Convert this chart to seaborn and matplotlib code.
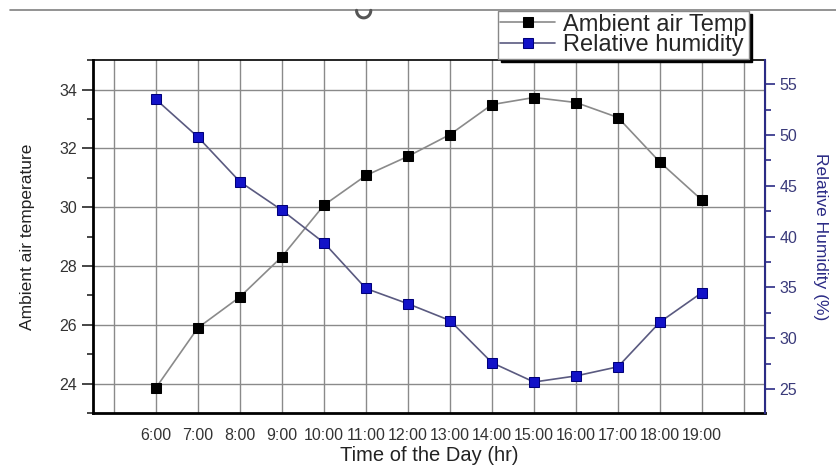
import numpy as np
import pandas as pd
import matplotlib
matplotlib.use("Agg")
import matplotlib.pyplot as plt
import seaborn as sns
from matplotlib.ticker import MultipleLocator, FixedLocator
from matplotlib.lines import Line2D

# Data
hours = [6, 7, 8, 9, 10, 11, 12, 13, 14, 15, 16, 17, 18, 19]
hour_labels = ["6:00", "7:00", "8:00", "9:00", "10:00", "11:00", "12:00",
               "13:00", "14:00", "15:00", "16:00", "17:00", "18:00", "19:00"]
air_temp = [23.86, 25.9, 26.95, 28.32, 30.07, 31.08, 31.73,
            32.47, 33.49, 33.73, 33.56, 33.05, 31.53, 30.24]
humidity = [53.5, 49.8, 45.4, 42.6, 39.4, 34.9, 33.4,
            31.75, 27.6, 25.7, 26.3, 27.2, 31.6, 34.5]

df = pd.DataFrame({"hour": hours, "temp": air_temp, "rh": humidity})

sns.set_style("white")
plt.rcParams["font.family"] = ["Liberation Sans", "DejaVu Sans"]

navy = "#2b2b85"
fig = plt.figure(figsize=(8.37, 4.70), dpi=100)
ax = fig.add_axes([0.111, 0.121, 0.803, 0.751])
ax2 = ax.twinx()

sns.lineplot(data=df, x="hour", y="temp", ax=ax, legend=False,
             color="#8a8a8a", lw=1.2, marker="s", markersize=6.5,
             markerfacecolor="black", markeredgecolor="black",
             label="Ambient air Temp")
sns.lineplot(data=df, x="hour", y="rh", ax=ax2, legend=False,
             color="#5a5a80", lw=1.2, marker="s", markersize=6.5,
             markerfacecolor="#1212c8", markeredgecolor="#00007a",
             label="Relative humidity")

# x axis
ax.set_xlim(4.5, 20.5)
ax.xaxis.set_major_locator(FixedLocator(list(range(5, 21))))
ax.set_xticklabels([""] + hour_labels + [""])
ax.xaxis.set_minor_locator(MultipleLocator(0.5))
ax.tick_params(axis="x", which="major", direction="out", length=7, width=1.2,
               labelsize=11.5, labelcolor="#333333", pad=4)
ax.tick_params(axis="x", which="minor", direction="out", length=4, width=1.2)
ax2.tick_params(axis="x", which="both", top=True, bottom=False,
                labeltop=False, labelbottom=False, direction="in", width=1.2)
ax2.tick_params(axis="x", which="major", length=7)
ax2.tick_params(axis="x", which="minor", length=4)

# left y axis
ax.set_ylim(23.0, 35.0)
ax.yaxis.set_major_locator(MultipleLocator(2))
ax.yaxis.set_minor_locator(MultipleLocator(1))
ax.tick_params(axis="y", which="major", direction="out", length=8, width=1.2,
               labelsize=11.5, labelcolor="#333333", left=True)
ax.tick_params(axis="y", which="minor", direction="out", length=4, width=1.2, left=True)

# right y axis
ax2.set_ylim(22.64, 57.36)
ax2.yaxis.set_major_locator(MultipleLocator(5))
ax2.yaxis.set_minor_locator(MultipleLocator(2.5))
ax2.tick_params(axis="y", which="major", direction="out", length=7, width=1.2,
                labelsize=11.5, labelcolor="#3a3a7a", color=navy, right=True)
ax2.tick_params(axis="y", which="minor", direction="out", length=4, width=1.2,
                color=navy, right=True)

ax.grid(True, which="major", color="#8a8a8a", lw=1.0)
ax2.grid(False)

for s in ["left", "bottom", "top"]:
    ax.spines[s].set_color("black")
ax.spines["left"].set_linewidth(2.0)
ax.spines["bottom"].set_linewidth(2.0)
ax.spines["top"].set_linewidth(1.2)
ax2.spines["right"].set_color(navy)
ax2.spines["right"].set_linewidth(1.5)
ax2.spines["top"].set_visible(False)
ax2.spines["left"].set_visible(False)
ax2.spines["bottom"].set_visible(False)

ax.set_xlabel("Time of the Day (hr)", fontsize=14.5, color="#222222", labelpad=2)
ax.set_ylabel("Ambient air temperature", fontsize=12.5, color="#222222", labelpad=17)
ax2.set_ylabel("Relative Humidity (%)", fontsize=12.5, color=navy,
               rotation=270, labelpad=22)

# legend
h1, l1 = ax.get_legend_handles_labels()
h2, l2 = ax2.get_legend_handles_labels()
leg = fig.legend(h1 + h2, l1 + l2, loc="upper left", bbox_to_anchor=(0.595, 0.976),
                 fontsize=17, frameon=True, fancybox=False, borderaxespad=0,
                 handlelength=2.3, handletextpad=0.35, borderpad=0.1,
                 labelspacing=-0.05, shadow={"color": "black", "alpha": 1})
leg.get_frame().set_edgecolor("#888888")
leg.get_frame().set_linewidth(1.0)

# stray page line and hook at the top
fig.add_artist(Line2D([0.012, 1.0], [0.978, 0.978], color="#808080", lw=1.2,
                      transform=fig.transFigure))
t = np.linspace(np.pi, 2 * np.pi, 30)
fig.add_artist(Line2D(0.4345 + 0.0085 * np.cos(t), 0.978 + 0.016 * np.sin(t),
                      color="#555555", lw=2.2, transform=fig.transFigure))

plt.savefig("out.png", dpi=100)
